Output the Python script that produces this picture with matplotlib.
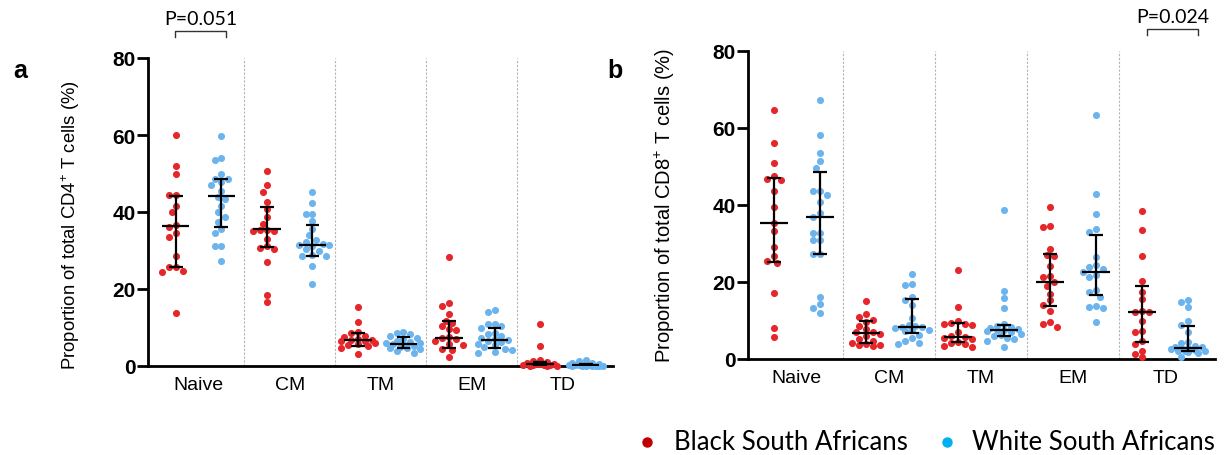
import matplotlib.pyplot as plt
import numpy as np
from matplotlib.lines import Line2D

plt.rcParams['font.family'] = ['Liberation Sans', 'DejaVu Sans']
plt.rcParams['mathtext.fontset'] = 'custom'
plt.rcParams['mathtext.rm'] = 'Liberation Sans'
plt.rcParams['mathtext.default'] = 'regular'

categories = ['Naive', 'CM', 'TM', 'EM', 'TD']
yticks = [0, 20, 40, 60, 80]

# panel a: CD4+ T cells (%)
cd4_black = [
    [60.0, 52.0, 49.8, 44.5, 44.3, 41.5, 40.0, 36.5, 36.2, 34.5, 33.5, 28.7, 25.8, 25.6, 24.7, 24.5, 13.8],
    [50.6, 47.0, 45.3, 42.7, 40.8, 38.6, 36.9, 35.3, 35.2, 35.1, 35.0, 33.0, 31.1, 30.6, 30.4, 27.1, 18.5, 16.5],
    [15.2, 11.3, 8.8, 8.5, 7.7, 7.5, 7.0, 6.8, 6.7, 6.6, 6.4, 6.0, 5.7, 5.5, 5.3, 4.8, 3.1],
    [28.2, 16.3, 15.7, 13.5, 11.8, 11.2, 10.3, 9.6, 9.4, 7.5, 7.2, 6.9, 6.5, 5.7, 5.5, 4.3, 4.2, 2.3],
    [11.0, 5.3, 1.5, 1.2, 1.0, 0.8, 0.6, 0.5, 0.4, 0.3, 0.3, 0.2, 0.2, 0.1, 0.1, 0.1],
]
cd4_white = [
    [59.8, 53.9, 53.6, 49.9, 48.7, 48.7, 47.7, 47.0, 45.5, 44.0, 43.4, 41.5, 39.9, 38.6, 37.3, 35.6, 34.5, 31.2, 31.2, 27.2],
    [45.1, 42.3, 39.6, 39.4, 37.7, 35.6, 33.9, 32.7, 32.3, 31.6, 31.5, 31.4, 31.2, 30.4, 29.9, 28.8, 28.7, 28.6, 25.9, 21.3],
    [8.9, 8.6, 8.2, 7.7, 7.4, 6.9, 6.5, 6.2, 6.0, 5.9, 5.8, 5.6, 5.3, 5.0, 4.8, 4.6, 4.3, 3.9, 3.5],
    [14.6, 14.1, 11.0, 10.8, 10.3, 9.9, 8.7, 8.4, 7.8, 7.3, 6.9, 6.7, 6.5, 6.2, 5.8, 5.4, 4.9, 4.5, 4.1, 3.6, 3.5],
    [1.6, 1.3, 0.9, 0.7, 0.5, 0.4, 0.3, 0.3, 0.2, 0.2, 0.2, 0.1, 0.1, 0.1, 0.1, 0.1, 0.05, 0.05],
]
# median, q1, q3
cd4_black_stats = [(36.3, 25.8, 44.2), (35.6, 31.0, 41.3), (6.7, 5.3, 8.5), (7.2, 4.6, 11.6), (0.5, 0.2, 1.1)]
cd4_white_stats = [(44.2, 36.2, 48.7), (31.5, 28.7, 36.6), (5.8, 4.6, 7.5), (6.75, 4.7, 9.9), (0.2, 0.1, 0.4)]

# panel b: CD8+ T cells (%)
cd8_black = [
    [64.6, 56.1, 50.9, 47.5, 46.8, 46.5, 43.6, 39.5, 35.2, 33.2, 29.0, 26.7, 25.4, 25.0, 17.1, 8.1, 5.7],
    [15.1, 11.6, 10.9, 10.2, 9.6, 8.5, 7.8, 7.0, 6.9, 6.5, 5.9, 5.2, 4.6, 4.2, 3.9, 3.7, 3.6, 3.5],
    [23.1, 13.4, 10.0, 9.4, 9.2, 9.1, 8.8, 6.9, 5.8, 6.0, 5.5, 5.2, 4.5, 4.2, 3.9, 3.5, 3.0],
    [39.4, 34.5, 34.3, 28.6, 27.0, 26.8, 24.2, 21.5, 21.3, 19.9, 19.0, 17.0, 15.2, 14.0, 12.4, 9.5, 9.1, 8.4],
    [38.4, 33.5, 26.8, 20.3, 17.5, 15.6, 12.5, 12.3, 12.2, 10.0, 7.2, 6.9, 4.6, 3.9, 2.2, 1.3, 0.4],
]
cd8_white = [
    [67.2, 58.1, 53.5, 51.3, 49.7, 43.6, 43.6, 42.7, 40.8, 38.0, 36.9, 32.7, 32.7, 30.9, 30.9, 27.3, 27.3, 16.2, 14.3, 13.2, 11.9],
    [22.1, 19.5, 19.2, 16.0, 15.4, 14.1, 10.6, 8.9, 8.6, 8.4, 8.3, 8.0, 7.6, 7.5, 7.2, 6.3, 5.5, 4.6, 4.2, 3.9],
    [38.8, 17.6, 15.8, 13.2, 9.0, 8.6, 8.3, 8.0, 7.8, 7.6, 7.5, 7.3, 7.0, 6.6, 6.3, 6.0, 5.5, 5.2, 4.6, 3.0],
    [63.5, 42.9, 37.7, 33.8, 32.9, 26.4, 24.4, 24.0, 23.5, 22.7, 21.8, 21.4, 17.8, 17.5, 16.2, 13.8, 13.6, 13.2, 9.7],
    [15.2, 14.7, 13.4, 10.0, 8.8, 6.9, 4.5, 4.2, 3.5, 3.2, 3.0, 2.9, 2.8, 2.5, 2.3, 2.2, 2.1, 2.0, 1.8, 1.5, 0.4],
]
cd8_black_stats = [(35.2, 25.2, 46.9), (6.75, 4.2, 9.8), (5.8, 4.3, 9.3), (20.0, 13.8, 27.4), (12.3, 4.3, 19.0)]
cd8_white_stats = [(36.9, 27.4, 48.6), (8.4, 6.75, 15.7), (7.5, 5.9, 8.9), (22.7, 16.7, 32.2), (2.9, 2.0, 8.7)]

red = '#e5262b'
blue = '#6cb4ee'

W, H = 1230, 456
fig = plt.figure(figsize=(W / 100, H / 100), dpi=100)


def px(x, y):
    return x / W, 1 - y / H


def swarm(ax, center, vals, d=6.8, kmax=5):
    # simple beeswarm in pixel space, width capped so dense groups overlap
    vals = np.asarray(vals, dtype=float)
    pts = ax.transData.transform(np.column_stack([np.full(len(vals), center), vals]))
    x0 = pts[0, 0]
    ypx = pts[:, 1]
    cands = sorted([k * d / 2 for k in range(-kmax, kmax + 1)], key=lambda c: (abs(c), c))
    placed = []
    offs = np.zeros(len(vals))
    for i in np.argsort(-vals):
        best, bestd = 0.0, -1
        for c in cands:
            md = min([np.hypot(c - p, ypx[i] - q) for p, q in placed] + [1e9])
            if md >= d * 0.97:
                best = c
                break
            if md > bestd + 0.5:
                best, bestd = c, md
        placed.append((best, ypx[i]))
        offs[i] = best
    back = ax.transData.inverted().transform(np.column_stack([x0 + offs, ypx]))
    return back[:, 0]


def summary(ax, c, st):
    med, q1, q3 = st
    kw = dict(color='black', lw=1.6, zorder=5, solid_capstyle='butt')
    ax.plot([c, c], [q1, q3], **kw)
    ax.plot([c - 0.075, c + 0.075], [q1, q1], **kw)
    ax.plot([c - 0.075, c + 0.075], [q3, q3], **kw)
    ax.plot([c - 0.15, c + 0.15], [med, med], **kw)


def panel(rect, xlim, black, white, sb, sw, ylabel, labx, laby, labsize):
    ax = fig.add_axes(rect)
    ax.set_xlim(*xlim)
    ax.set_ylim(0, 80)
    for s in ['top', 'right']:
        ax.spines[s].set_visible(False)
    for s in ['left', 'bottom']:
        ax.spines[s].set_linewidth(2.0)
    ax.set_yticks(yticks)
    ax.tick_params(axis='y', length=8, width=2.0, pad=1, labelsize=15)
    for t in ax.get_yticklabels():
        t.set_fontweight('bold')
    ax.set_xticks(range(len(categories)))
    ax.set_xticklabels(categories, fontsize=14)
    ax.tick_params(axis='x', length=0, pad=7)
    for k in range(len(categories) - 1):
        ax.plot([k + 0.5, k + 0.5], [0, 80], color='#b5b5b5', lw=0.8, ls=(0, (2, 1.5)), zorder=1)
    for k in range(len(categories)):
        for vals, col, off in [(black[k], red, -0.25), (white[k], blue, 0.25)]:
            xs = swarm(ax, k + off, vals)
            ax.scatter(xs, vals, s=26, color=col, linewidths=0, zorder=3, clip_on=False)
        summary(ax, k - 0.25, sb[k])
        summary(ax, k + 0.25, sw[k])
    ax.set_ylabel(ylabel, fontsize=labsize)
    ax.yaxis.set_label_coords(labx, laby)
    return ax


ax_a = panel([148 / W, (H - 367) / H, 465 / W, 308 / H], (-0.555, 4.55),
             cd4_black, cd4_white, cd4_black_stats, cd4_white_stats,
             'Proportion of total CD4$^{+}$ T cells (%)', -0.142, 0.46, 13.3)
ax_b = panel([748 / W, (H - 360) / H, 467 / W, 308 / H], (-0.53, 4.54),
             cd8_black, cd8_white, cd8_black_stats, cd8_white_stats,
             'Proportion of total CD8$^{+}$ T cells (%)', -0.152, 0.5, 14.5)

fig.text(*px(13, 78), 'a', fontsize=18, fontweight='bold', va='baseline')
fig.text(*px(607, 78), 'b', fontsize=18, fontweight='bold', va='baseline')

# p-value brackets
for x1, x2, yb, yt, label in [(175, 226, 32, 25, 'P=0.051'), (1147, 1198, 30, 23, 'P=0.024')]:
    xs = [x1, x1, x2, x2]
    ys = [yb + 6, yb, yb, yb + 6]
    fig.add_artist(Line2D([x / W for x in xs], [1 - y / H for y in ys], color='#333333', lw=1.0))
    fig.text(*px((x1 + x2) / 2, yt), label, fontsize=14, family=['Lato', 'DejaVu Sans'],
             ha='center', va='baseline')

# legend
for xd, xt, col, label in [(647, 674, '#c00000', 'Black South Africans'),
                           (947, 972, '#00b0f0', 'White South Africans')]:
    fig.add_artist(Line2D([xd / W], [1 - 443 / H], marker='o', ms=6.5, color=col, lw=0))
    fig.text(*px(xt, 450), label, fontsize=18.5, family=['Lato', 'DejaVu Sans'], va='baseline')

fig.savefig('out.png', dpi=100)
